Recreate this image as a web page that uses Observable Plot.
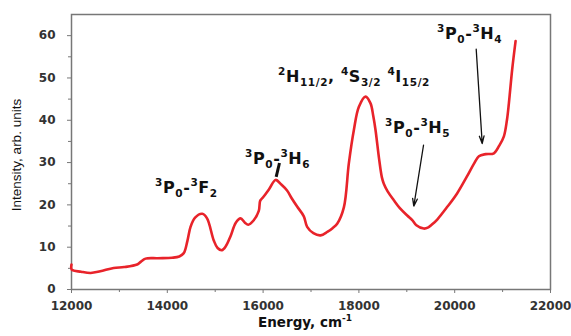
<!DOCTYPE html>
<html><head><meta charset="utf-8">
<script src="https://cdn.jsdelivr.net/npm/d3@7"></script>
<script src="https://cdn.jsdelivr.net/npm/@observablehq/plot@0.6"></script>
<style>body{margin:0;background:#fff}</style>
</head><body><div id="chart"></div>
<script>
// Spectrum (energy in cm^-1, intensity in arb. units)
const energy = [12000,12005,12200,12400,12600,12880,13100,13370,13450,13545,13800,14100,14250,14345,14420,14485,14580,14730,14830,14970,15050,15140,15220,15320,15430,15530,15620,15690,15800,15910,15940,16000,16130,16260,16380,16500,16600,16710,16850,16920,17050,17200,17340,17450,17550,17686,17790,17895,18000,18140,18243,18300,18347,18420,18480,18520,18600,18729,18850,19009,19114,19200,19355,19450,19530,19640,19850,20050,20250,20400,20505,20650,20818,20930,21027,21090,21131,21200,21271];
const intensity = [5.9,4.7,4.2,3.9,4.3,5.1,5.3,5.9,6.6,7.3,7.4,7.5,7.8,8.6,11.5,14.8,17.0,17.9,16.8,11.6,9.8,9.3,10.2,12.6,15.8,16.8,15.8,15.3,16.3,18.6,21.0,21.8,23.8,25.9,24.8,23.4,21.5,19.6,17.3,14.8,13.3,12.8,13.6,14.5,15.6,19.4,29.8,37.7,43.2,45.6,44,41,37.7,31,26.5,25,23.2,21.1,19.3,17.5,16.4,15.2,14.4,14.7,15.4,16.6,19.6,22.7,26.6,29.7,31.5,32.0,32.2,34,36.2,40,44,52,58.7];

// Axis ticks
const xTickValues = [12000,14000,16000,18000,20000,22000];
const xMinorTicks = [13000,15000,17000,19000,21000];
const yTickValues = [0,10,20,30,40,50,60];
const yMinorTicks = [5,15,25,35,45,55];

// Annotations (data coordinates)
const labelText = ["^3P_0-^3F_2", "^3P_0-^3H_6", "^2H_{11/2}, ^4S_{3/2} ^4I_{15/2}", "^3P_0-^3H_5", "^3P_0-^3H_4"];
const labelX = [13754, 15633, 16322, 18555, 19641];
const labelY = [22.7, 29.6, 49.0, 36.9, 59.0];
const arrowX1 = [19349, 20449];
const arrowY1 = [34.1, 56.8];
const arrowX2 = [19146, 20574];
const arrowY2 = [19.7, 34.5];
const pointerX1 = [16342], pointerY1 = [29.9], pointerX2 = [16273], pointerY2 = [26.6];

const spectrum = energy.map((e, i) => ({e, v: intensity[i]}));
const arrows = arrowX1.map((d, i) => ({x1: d, y1: arrowY1[i], x2: arrowX2[i], y2: arrowY2[i]}));
const pointers = pointerX1.map((d, i) => ({x1: d, y1: pointerY1[i], x2: pointerX2[i], y2: pointerY2[i]}));

const chart = Plot.plot({
  width: 571, height: 336,
  marginLeft: 71, marginRight: 21, marginTop: 14, marginBottom: 47,
  x: {domain: [12000, 22000]},
  y: {domain: [0, 65]},
  style: {fontFamily: "DejaVu Sans", fontWeight: "bold", fontSize: "12px", color: "#333", background: "white"},
  marks: [
    Plot.axisX({ticks: xMinorTicks, tickSize: 3, text: null, label: null, stroke: "#777"}),
    Plot.axisX({ticks: xTickValues, tickSize: 4, tickPadding: 7.5, tickFormat: "d", label: null, stroke: "#777"}),
    Plot.axisY({ticks: yMinorTicks, tickSize: 3, text: null, label: null, stroke: "#777"}),
    Plot.axisY({ticks: yTickValues, tickSize: 4, tickPadding: 12, tickFormat: "d", label: null, stroke: "#777"}),
    Plot.frame({stroke: "#777", strokeWidth: 1.5}),
    Plot.line(spectrum, {x: "e", y: "v", stroke: "#e8232a", strokeWidth: 2.6, curve: "catmull-rom"}),
    Plot.arrow(arrows, {x1: "x1", y1: "y1", x2: "x2", y2: "y2", stroke: "#111", strokeWidth: 1.3, headLength: 9, headAngle: 35}),
    Plot.link(pointers, {x1: "x1", y1: "y1", x2: "x2", y2: "y2", stroke: "#111", strokeWidth: 3})
  ]
});
document.getElementById("chart").appendChild(chart);

const sx = chart.scale("x"), sy = chart.scale("y");
const svg = d3.select(chart);

function addRich(g, str, opts) {
  const t = g.append("text")
    .attr("x", opts.x).attr("y", opts.y)
    .attr("font-family", opts.family || "DejaVu Sans")
    .attr("font-weight", opts.weight || "bold")
    .attr("font-size", opts.size)
    .attr("fill", "#111")
    .attr("letter-spacing", opts.spacing || 0)
    .attr("text-anchor", opts.anchor || "start");
  if (opts.rotate) t.attr("transform", `rotate(-90 ${opts.x} ${opts.y})`);
  const re = /([\^_])\{([^}]*)\}|([\^_])(.)|([^\^_]+)/g;
  let m, cur = 0;
  while ((m = re.exec(str))) {
    let kind = m[1] || m[3] || "", txt = m[2] ?? m[4] ?? m[5];
    let target = kind === "^" ? opts.sup : kind === "_" ? opts.sub : 0;
    const ts = t.append("tspan").text(txt).attr("dy", target - cur);
    if (kind) ts.attr("font-size", opts.small);
    cur = target;
  }
  return t;
}

labelText.forEach((s, i) => {
  addRich(svg, s, {x: sx.apply(labelX[i]), y: sy.apply(labelY[i]), size: 16, small: 10.5, sup: -7, sub: 4, spacing: 0.6});
});

// Axis titles
addRich(svg, "Energy, cm^{-1}", {x: 305, y: 327, size: 13.5, small: 9, sup: -6, sub: 0, anchor: "middle"});
addRich(svg, "Intensity, arb. units", {x: 21, y: 155, size: 13.5, family: "Liberation Sans", weight: "normal", anchor: "middle", rotate: true, sup: 0, sub: 0, small: 10});
</script>
</body></html>
